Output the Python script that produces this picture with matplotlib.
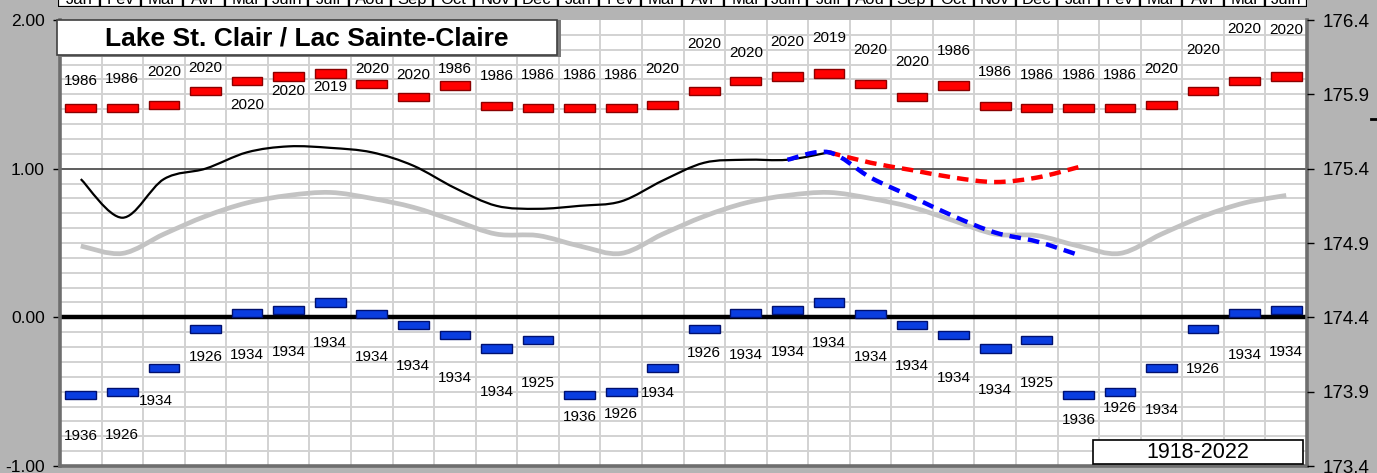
import numpy as np
import matplotlib
matplotlib.use('Agg')
import matplotlib.pyplot as plt
from matplotlib.path import Path
from matplotlib.patches import PathPatch, Rectangle
from matplotlib.lines import Line2D

plt.rcParams['font.family'] = ['Liberation Sans', 'DejaVu Sans']

DATUM = 174.4  # left axis 0.00 == 174.4 m on right axis

# month positions 1..30 (Jan .. Jun two and a half years later)
month_names = ['Jan', 'Fév', 'Mar', 'Avr', 'Mai', 'Juin', 'Juil', 'Aoû', 'Sep', 'Oct', 'Nov', 'Déc',
               'Jan', 'Fév', 'Mar', 'Avr', 'Mai', 'Juin', 'Juil', 'Aoû', 'Sep', 'Oct', 'Nov', 'Déc',
               'Jan', 'Fév', 'Mar', 'Avr', 'Mai', 'Juin']
months = np.arange(1, 31)

# record monthly high / low (m) and the year it happened
rec_high = [175.81, 175.81, 175.83, 175.92, 175.99, 176.02, 176.04, 175.97, 175.88, 175.96, 175.82, 175.81,
            175.81, 175.81, 175.83, 175.92, 175.99, 176.02, 176.04, 175.97, 175.88, 175.96, 175.82, 175.81,
            175.81, 175.81, 175.83, 175.92, 175.99, 176.02]
high_years = ['1986', '1986', '2020', '2020', '2020', '2020', '2019', '2020', '2020', '1986', '1986', '1986',
              '1986', '1986', '2020', '2020', '2020', '2020', '2019', '2020', '2020', '1986', '1986', '1986',
              '1986', '1986', '2020', '2020', '2020', '2020']
rec_low = [173.88, 173.90, 174.06, 174.32, 174.43, 174.45, 174.50, 174.42, 174.35, 174.28, 174.19, 174.25,
           173.88, 173.90, 174.06, 174.32, 174.43, 174.45, 174.50, 174.42, 174.35, 174.28, 174.19, 174.25,
           173.88, 173.90, 174.06, 174.32, 174.43, 174.45]
low_years = ['1936', '1926', '1934', '1926', '1934', '1934', '1934', '1934', '1934', '1934', '1934', '1925',
             '1936', '1926', '1934', '1926', '1934', '1934', '1934', '1934', '1934', '1934', '1934', '1925',
             '1936', '1926', '1934', '1926', '1934', '1934']

# long term average (m)
average = [174.88, 174.83, 174.96, 175.08, 175.17, 175.22, 175.24, 175.20, 175.14, 175.05, 174.96, 174.95,
           174.88, 174.83, 174.96, 175.08, 175.17, 175.22, 175.24, 175.20, 175.14, 175.05, 174.96, 174.95,
           174.88, 174.83, 174.96, 175.08, 175.17, 175.22]

# recorded levels (m), months 1..19
recorded = [175.33, 175.07, 175.33, 175.40, 175.51, 175.55, 175.54, 175.51, 175.42, 175.27, 175.15, 175.13,
            175.15, 175.18, 175.32, 175.44, 175.46, 175.46, 175.51]

# forecast ranges (m)
fc_high_months = [19, 20, 21, 22, 23, 24, 25]
fc_high = [175.51, 175.44, 175.39, 175.34, 175.31, 175.34, 175.41]
fc_low_months = [18, 19, 20, 21, 22, 23, 24, 25]
fc_low = [175.46, 175.51, 175.34, 175.21, 175.08, 174.97, 174.91, 174.82]

# label heights on the left axis scale (layout only)
high_label_y = [1.59, 1.60, 1.65, 1.68, 1.43, 1.52, 1.55, 1.67, 1.63, 1.67, 1.62, 1.63,
                1.63, 1.63, 1.67, 1.84, 1.78, 1.85, 1.88, 1.80, 1.72, 1.79, 1.65, 1.63,
                1.63, 1.63, 1.67, 1.80, 1.94, 1.93]
low_label_y = [-0.80, -0.79, -0.56, -0.27, -0.25, -0.23, -0.17, -0.27, -0.33, -0.41, -0.50, -0.44,
               -0.67, -0.65, -0.51, -0.24, -0.25, -0.23, -0.17, -0.27, -0.33, -0.41, -0.49, -0.44,
               -0.69, -0.61, -0.62, -0.35, -0.25, -0.23]


def smooth_path(x, y):
    # excel style smoothed line (catmull-rom as cubic bezier)
    pts = np.column_stack([x, y]).astype(float)
    verts = [pts[0]]
    codes = [Path.MOVETO]
    n = len(pts)
    for i in range(n - 1):
        p0 = pts[i - 1] if i > 0 else pts[i]
        p1 = pts[i]
        p2 = pts[i + 1]
        p3 = pts[i + 2] if i + 2 < n else pts[i + 1]
        verts += [p1 + (p2 - p0) / 6, p2 - (p3 - p1) / 6, p2]
        codes += [Path.CURVE4] * 3
    return Path(verts, codes)


W, H = 1377, 473
fig = plt.figure(figsize=(W / 100, H / 100), dpi=100, facecolor='#b4b4b4')

# month strip at the very top (cut off by the figure edge, as in the source)
top = fig.add_axes([58 / W, (H - 7) / H, (1307 - 58) / W, 30 / H])
top.set_xlim(0.5, 30.5)
top.set_ylim(0, 1)
top.bar(months, 1, width=1, color='white', edgecolor='black', linewidth=1.6)
for m, name in zip(months, month_names):
    top.text(m, 0.1, name, ha='center', va='baseline', fontsize=12)
top.axis('off')

ax = fig.add_axes([60 / W, (H - 466) / H, (1307 - 60) / W, (466 - 20) / H])
ax.set_facecolor('white')
ax.set_xlim(0.5, 30.5)
ax.set_ylim(-1, 2)

ax.set_yticks(np.arange(-1, 2.01, 0.1), minor=True)
ax.set_xticks(np.arange(0.5, 30.6, 1), minor=True)
ax.set_xticks([])
ax.grid(which='minor', color='#d2d2d2', linewidth=1.4, zorder=0)
ax.set_axisbelow(True)
ax.axhline(1, color='#505050', linewidth=1.3, zorder=1)
ax.axhline(0, color='black', linewidth=3.2, zorder=1)

ax.set_yticks([-1, 0, 1, 2])
ax.set_yticklabels(['-1.00', '0.00', '1.00', '2.00'], fontsize=12.5)
ax.tick_params(axis='y', which='major', length=5, width=1, pad=6, direction='out')
ax.tick_params(axis='both', which='minor', length=0)
for side in ['left', 'bottom', 'right']:
    ax.spines[side].set_color('#6e6e6e')
    ax.spines[side].set_linewidth(2.6)
ax.spines['top'].set_visible(False)

ax2 = ax.twinx()
ax2.set_ylim(-1 + DATUM, 2 + DATUM)
rticks = np.arange(173.4, 176.45, 0.5)
ax2.set_yticks(rticks)
ax2.set_yticklabels([f'{v:.1f}' for v in rticks], fontsize=13.5)
ax2.tick_params(axis='y', length=5, width=1, pad=6)
for side in ['left', 'bottom', 'right', 'top']:
    ax2.spines[side].set_visible(False)

# record bars
hi = np.array(rec_high) - DATUM
lo = np.array(rec_low) - DATUM
bh = 0.055
ax.bar(months, bh, bottom=hi - bh / 2, width=0.74, color='#ff0000', edgecolor='#8b0000', linewidth=1, zorder=3)
ax.bar(months, bh, bottom=lo - bh / 2, width=0.74, color='#0a3de0', edgecolor='#00106e', linewidth=1, zorder=3)
for m, yr, yy in zip(months, high_years, high_label_y):
    ax.text(m, yy, yr, ha='center', va='center', fontsize=11, zorder=4)
low_dx = [0] * 30
low_dx[2] = -0.2
low_dx[14] = -0.12
for m, yr, yy, dx in zip(months, low_years, low_label_y, low_dx):
    ax.text(m + dx, yy, yr, ha='center', va='center', fontsize=11, zorder=4)

# lines
ax.add_patch(PathPatch(smooth_path(months, np.array(average) - DATUM), fill=False,
                       edgecolor='#c3c3c3', linewidth=3.4, zorder=4))
ax.add_patch(PathPatch(smooth_path(months[:len(recorded)], np.array(recorded) - DATUM), fill=False,
                       edgecolor='black', linewidth=1.6, zorder=5))
ax.add_patch(PathPatch(smooth_path(fc_high_months, np.array(fc_high) - DATUM), fill=False,
                       edgecolor='#ff0000', linewidth=3.2, linestyle=(0, (2.6, 1.6)), capstyle='butt', zorder=6))
ax.add_patch(PathPatch(smooth_path(fc_low_months, np.array(fc_low) - DATUM), fill=False,
                       edgecolor='#0000ff', linewidth=3.2, linestyle=(0, (2.6, 1.6)), capstyle='butt', zorder=7))

# title box
fig.add_artist(Rectangle((59 / W, (H - 57) / H), (559 - 57) / W, (57 - 20) / H, transform=fig.transFigure,
                         facecolor='#7a7a7a', edgecolor='none', zorder=5))
fig.add_artist(Rectangle((57 / W, (H - 55) / H), (557 - 57) / W, (55 - 20) / H, transform=fig.transFigure,
                         facecolor='white', edgecolor='#404040', linewidth=1.2, zorder=6))
fig.text(307 / W, (H - 38) / H, 'Lake St. Clair / Lac Sainte-Claire', ha='center', va='center',
         fontsize=19, fontweight='bold', zorder=7)

# period box
fig.add_artist(Rectangle((1093 / W, (H - 464) / H), (1303 - 1093) / W, (464 - 440) / H, transform=fig.transFigure,
                         facecolor='white', edgecolor='black', linewidth=1.2, zorder=6))
fig.text(1198 / W, (H - 452) / H, '1918-2022', ha='center', va='center', fontsize=15.5, zorder=7)

fig.add_artist(Line2D([1371 / W, 1377 / W], [(H - 119) / H] * 2, color='black', linewidth=2))

fig.savefig('out.png', dpi=100, facecolor=fig.get_facecolor())
